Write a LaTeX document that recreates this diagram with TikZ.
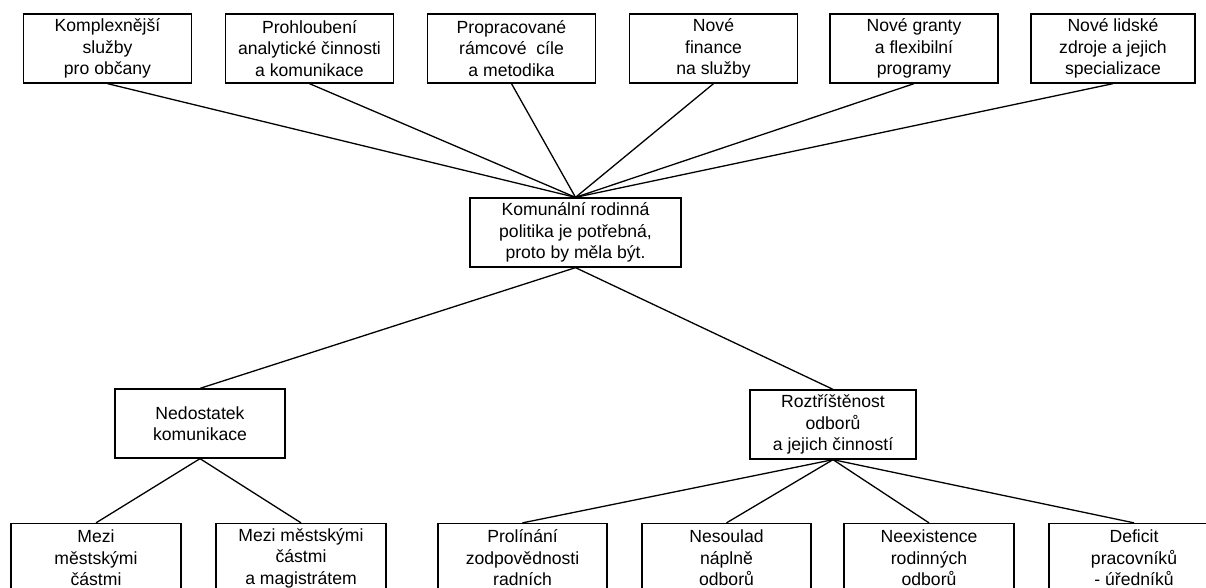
\documentclass[tikz,border=0pt]{standalone}
\usepackage{fontspec}
\setmainfont{Liberation Sans}
\begin{document}
\begin{tikzpicture}[x=1pt,y=-1pt,
  box/.style={draw, line width=1.3pt, rectangle, minimum width=168pt,
    minimum height=69pt, align=center, inner sep=0pt,
    font=\fontsize{17.6}{21.5}\selectfont},
  link/.style={line width=1.3pt}]
\useasboundingbox (0,0) rectangle (1206,587);
\clip (0,0) rectangle (1206,587);

% goals
\node[box] (t1) at (107.5,48.5) {Komplexnější\\služby\\pro občany};
\node[box] (t2) at (309.5,48.5) {Prohloubení\\analytické činnosti\\a komunikace};
\node[box] (t3) at (511.5,48.5) {Propracované\\rámcové\ \ cíle\\a metodika};
\node[box] (t4) at (713.5,48.5) {Nové\\finance\\na služby};
\node[box] (t5) at (914,48.5) {Nové granty\\a flexibilní\\programy};
\node[box, minimum width=164pt] (t6) at (1113,48.5) {Nové lidské\\zdroje a jejich\\specializace};

% central statement
\node[box, minimum width=211pt] (c) at (575.5,232.5) {Komunální rodinná\\politika je potřebná,\\proto by měla být.};

% problems
\node[box, minimum width=170pt] (n1) at (200,423.5) {Nedostatek\\komunikace};
\node[box, minimum width=166pt] (n2) at (833,424.5) {Roztříštěnost\\odborů\\a jejich činností};

% causes
\node[box, minimum width=170pt] (l1) at (96,558) {Mezi\\městskými\\částmi};
\node[box, minimum width=170pt] (l2) at (301,558) {Mezi městskými\\částmi\\a magistrátem};
\node[box, minimum width=169pt] (r1) at (522.5,558) {Prolínání\\zodpovědnosti\\radních};
\node[box, minimum width=169pt] (r2) at (726.5,558) {Nesoulad\\náplně\\odborů};
\node[box, minimum width=170pt] (r3) at (929,558) {Neexistence\\rodinných\\odborů};
\node[box, minimum width=170pt] (r4) at (1134,558) {Deficit\\pracovníků\\- úředníků};

% connectors
\foreach \t in {t1,t2,t3,t4,t5,t6}
  \draw[link] (\t.south) -- (c.north);
\draw[link] (c.south) -- (n1.north);
\draw[link] (c.south) -- (n2.north);
\draw[link] (n1.south) -- (l1.north);
\draw[link] (n1.south) -- (l2.north);
\foreach \r in {r1,r2,r3,r4}
  \draw[link] (n2.south) -- (\r.north);
\end{tikzpicture}
\end{document}
